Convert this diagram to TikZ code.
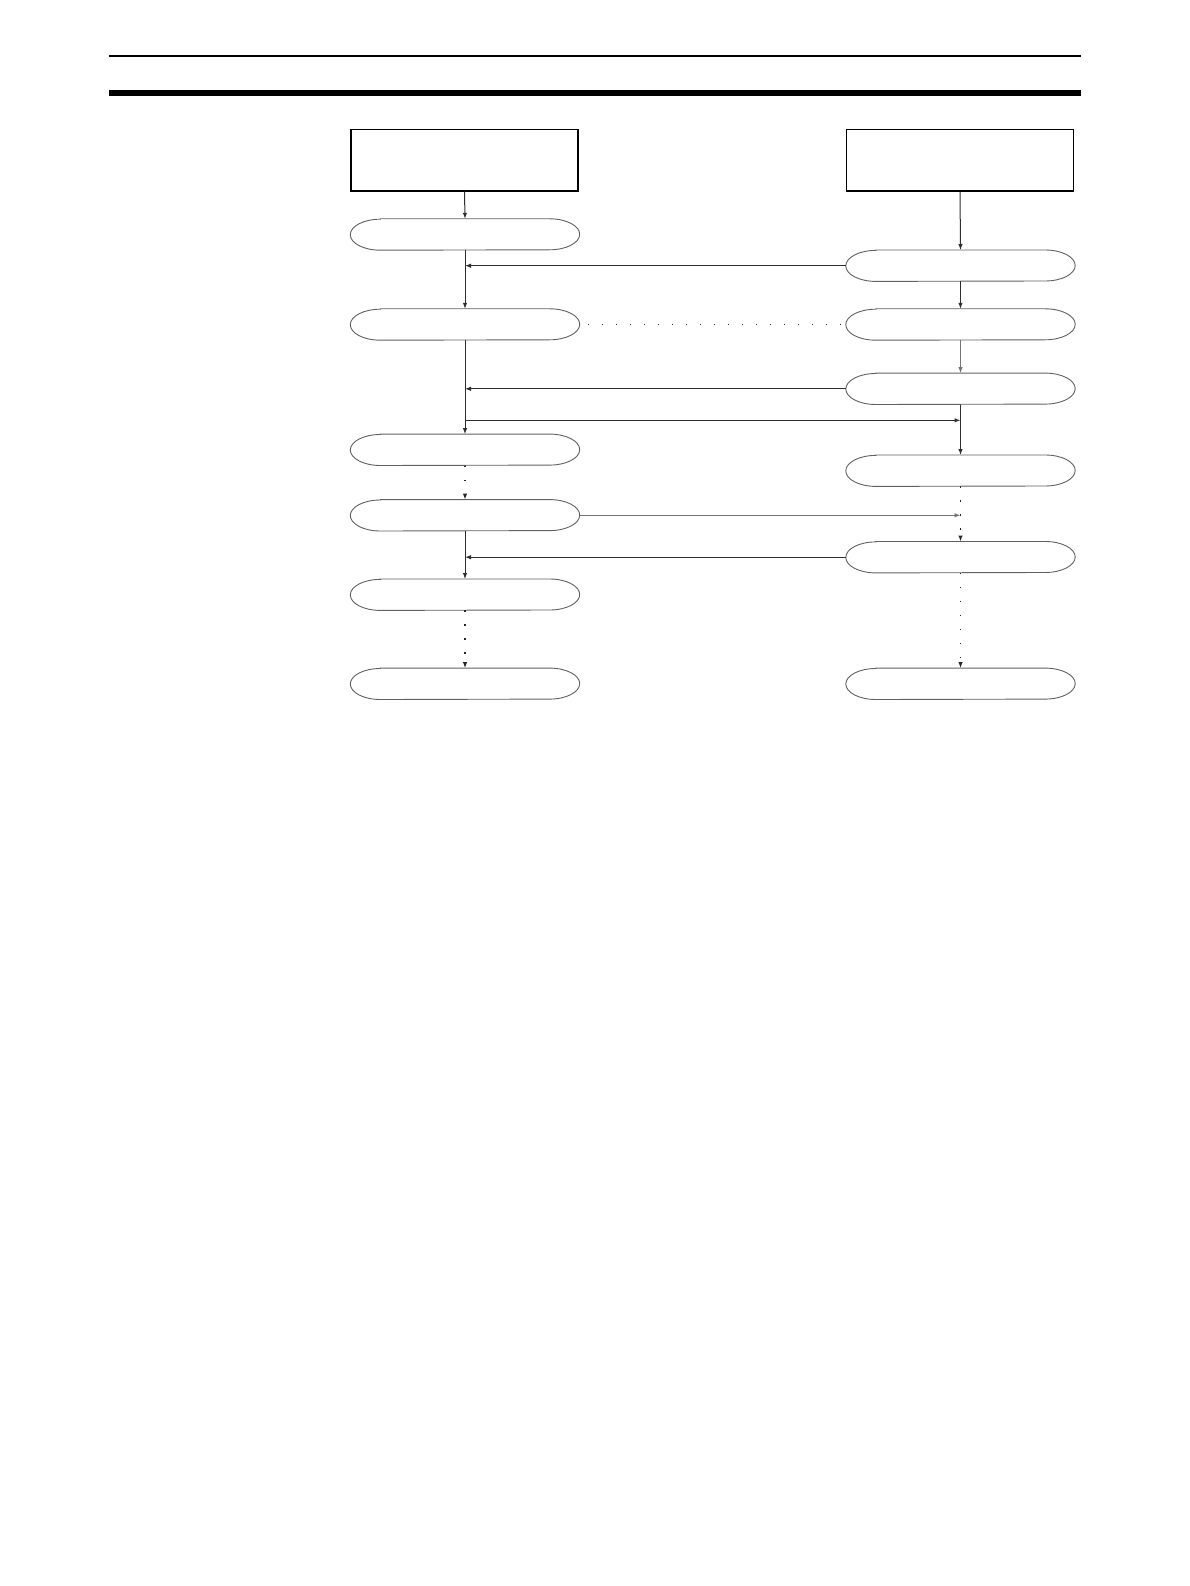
\documentclass[tikz,border=0pt]{standalone}
\usetikzlibrary{arrows.meta}
\tikzset{
  boxnode/.style={draw=black,line width=1.3pt,minimum width=227pt,minimum height=61.7pt,inner sep=0pt},
  ovalnode/.style={minimum width=229pt,minimum height=31pt,inner sep=0pt},
  ovalline/.style={draw=black!62,line width=0.9pt},
  conn/.style={draw=black!82,line width=1pt,-{Latex[length=6pt,width=4.5pt]}},
  lightconn/.style={draw=black!55,line width=1pt,-{Latex[length=6pt,width=4.5pt]}},
  dotconn/.style={draw=black!85,line width=1.3pt,dash pattern=on 1.3pt off 12.7pt,-{Latex[length=6pt,width=4.5pt]}},
  dotline/.style={draw=black!85,line width=1.3pt,dash pattern=on 1.3pt off 12.7pt,dash phase=-8pt},
  rule/.style={draw=black}
}
\newcommand\ovaloutline[1]{%
  \draw[ovalline] ([xshift=30pt]#1.north west) -- ([xshift=-30pt]#1.north east)
    arc[start angle=-90,end angle=90,x radius=30,y radius=15.5]
    -- ([xshift=30pt]#1.south west)
    arc[start angle=90,end angle=270,x radius=30,y radius=15.5] -- cycle;}
\begin{document}
\begin{tikzpicture}[x=1pt,y=-1pt]
\useasboundingbox[fill=white] (0,0) rectangle (1190,1586);
% header rules
\coordinate (r1a) at (109,55.8);
\coordinate (r1b) at (1081,55.8);
\coordinate (r2a) at (109,92.9);
\coordinate (r2b) at (1081,92.9);
\draw[rule,line width=2pt] (r1a) -- (r1b);
\draw[rule,line width=5.7pt] (r2a) -- (r2b);
% boxes
\node[boxnode] (LB) at (464.5,160.2) {};
\node[boxnode] (RB) at (960,160.2) {};
% left ovals
\node[ovalnode] (L1) at (465,234.5) {};
\node[ovalnode] (L2) at (465,324.5) {};
\node[ovalnode] (L3) at (465,449.8) {};
\node[ovalnode] (L4) at (465,515.3) {};
\node[ovalnode] (L5) at (465,594.7) {};
\node[ovalnode] (L6) at (465,683.8) {};
% right ovals
\node[ovalnode] (R1) at (960.5,265.7) {};
\node[ovalnode] (R2) at (960.5,324.5) {};
\node[ovalnode] (R3) at (960.5,388.8) {};
\node[ovalnode] (R4) at (960.5,470.7) {};
\node[ovalnode] (R5) at (960.5,557.2) {};
\node[ovalnode] (R6) at (960.5,683.8) {};
\foreach \n in {L1,L2,L3,L4,L5,L6,R1,R2,R3,R4,R5,R6} {\ovaloutline{\n}}
% left column
\draw[conn] (LB.south) -- (L1.north);
\draw[conn] (L1.south) -- (L2.north);
\draw[conn] (L2.south) -- (L3.north);
\draw[dotconn] (L3.south) -- (L4.north);
\draw[conn] (L4.south) -- (L5.north);
\draw[dotconn] (L5.south) -- (L6.north);
% right column
\draw[conn] (RB.south) -- (R1.north);
\draw[conn] (R1.south) -- (R2.north);
\draw[lightconn] (R2.south) -- (R3.north);
\draw[conn] (R3.south) -- (R4.north);
\draw[dotconn] (R4.south) -- (R5.north);
\draw[dotconn] (R5.south) -- (R6.north);
% cross connectors
\draw[conn] (R1.west) -- (R1.west -| L1.south);
\draw[dotline] (L2.east) -- (R2.west);
\draw[conn] (R3.west) -- (R3.west -| L2.south);
\coordinate (cL) at (465,420.3);
\draw[conn] (cL) -- (cL -| R3.south);
\draw[lightconn] (L4.east) -- (L4.east -| R4.south);
\draw[conn] (R5.west) -- (R5.west -| L4.south);
\end{tikzpicture}
\end{document}
